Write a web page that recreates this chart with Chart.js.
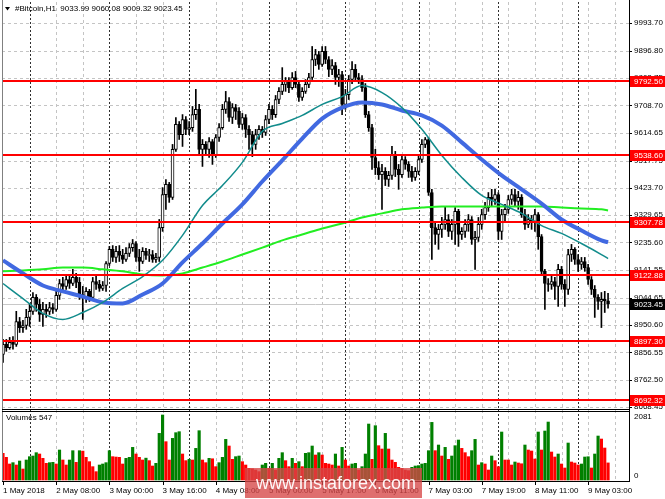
<!DOCTYPE html>
<html lang="en">
<head>
<meta charset="UTF-8">
<title>#Bitcoin,H1</title>
<script src="https://cdn.jsdelivr.net/npm/chart.js"></script>
<style>
  html, body { margin: 0; padding: 0; background: #fff; }
  #chart { display: block; }
</style>
</head>
<body>
<canvas id="chart" width="665" height="499"></canvas>
<script>
const symbol = '#Bitcoin,H1';

// bar index of each time label, and the label text
const labelIdx = [0, 16, 32, 48, 64, 80, 96, 112, 128, 144, 160, 176];
const timeLabels = ['1 May 2018', '2 May 08:00', '3 May 00:00', '3 May 16:00', '4 May 08:00', '5 May 00:00',
                    '5 May 17:00', '6 May 11:00', '7 May 03:00', '7 May 19:00', '8 May 11:00', '9 May 03:00'];
// bars where a new day starts
const daySep = [8, 32, 56, 80, 103, 125, 149, 173];

const priceTicks = [9993.70, 9896.80, 9802.75, 9708.70, 9614.65, 9517.75, 9423.70, 9329.65,
                    9235.60, 9141.55, 9044.65, 8950.60, 8856.55, 8762.50, 8668.45];
const levels = [9792.50, 9538.60, 9307.78, 9122.88, 8897.30, 8692.32];

// hourly candles
const opens = [
  8849, 8884, 8873, 8891, 8884, 8963, 8942, 8949, 8977, 8998,
  9046, 9022, 8987, 9005, 8998, 9011, 9005, 9053, 9094, 9084,
  9108, 9094, 9115, 9098, 9056, 9049, 9067, 9046, 9101, 9091,
  9077, 9087, 9163, 9212, 9184, 9205, 9191, 9177, 9198, 9218,
  9232, 9184, 9170, 9205, 9191, 9194, 9177, 9184, 9287, 9401,
  9436, 9391, 9557, 9643, 9608, 9660, 9626, 9632, 9677, 9695,
  9557, 9574, 9557, 9584, 9539, 9598, 9632, 9695, 9722, 9667,
  9701, 9688, 9643, 9667, 9626, 9608, 9574, 9608, 9626, 9615,
  9660, 9695, 9677, 9729, 9757, 9781, 9791, 9770, 9805, 9781,
  9736, 9757, 9781, 9805, 9867, 9884, 9850, 9895, 9867, 9833,
  9846, 9805, 9815, 9712, 9746, 9798, 9833, 9805, 9798, 9770,
  9677, 9632, 9529, 9494, 9470, 9481, 9453, 9467, 9539, 9488,
  9470, 9522, 9505, 9481, 9460, 9481, 9522, 9574, 9591, 9408,
  9287, 9263, 9281, 9298, 9315, 9274, 9298, 9343, 9263, 9274,
  9298, 9315, 9246, 9253, 9298, 9332, 9356, 9391, 9384, 9401,
  9274, 9332, 9350, 9384, 9401, 9377, 9391, 9332, 9298, 9315,
  9308, 9332, 9256, 9136, 9094, 9091, 9101, 9084, 9143, 9091,
  9074, 9194, 9212, 9177, 9160, 9170, 9149, 9108, 9074, 9046,
  9032, 9039, 9033.99
];
const highs = [
  8901, 8901, 8908, 8911, 8998, 8977, 8967, 9005, 9022, 9063,
  9056, 9039, 9029, 9022, 9029, 9025, 9067, 9108, 9115, 9125,
  9122, 9143, 9129, 9115, 9084, 9080, 9074, 9115, 9122, 9105,
  9101, 9170, 9222, 9225, 9222, 9225, 9212, 9218, 9232, 9246,
  9239, 9212, 9218, 9215, 9212, 9208, 9198, 9315, 9425, 9453,
  9443, 9574, 9667, 9653, 9677, 9670, 9653, 9705, 9764, 9712,
  9591, 9584, 9598, 9591, 9608, 9646, 9712, 9757, 9736, 9715,
  9712, 9701, 9681, 9677, 9639, 9619, 9626, 9639, 9636, 9674,
  9712, 9708, 9743, 9770, 9839, 9805, 9805, 9822, 9826, 9788,
  9770, 9798, 9819, 9912, 9902, 9895, 9912, 9912, 9877, 9867,
  9857, 9833, 9826, 9764, 9812, 9860, 9850, 9819, 9812, 9784,
  9688, 9643, 9557, 9515, 9505, 9494, 9481, 9567, 9550, 9505,
  9536, 9532, 9515, 9498, 9494, 9539, 9591, 9598, 9598, 9419,
  9308, 9298, 9322, 9360, 9332, 9315, 9356, 9350, 9287, 9315,
  9332, 9325, 9274, 9322, 9350, 9374, 9408, 9419, 9419, 9408,
  9350, 9367, 9398, 9419, 9419, 9412, 9401, 9350, 9332, 9329,
  9350, 9339, 9263, 9143, 9111, 9122, 9115, 9160, 9153, 9108,
  9212, 9229, 9218, 9194, 9184, 9184, 9160, 9118, 9087, 9056,
  9063, 9067, 9060.08
];
const lows = [
  8822, 8860, 8867, 8867, 8877, 8925, 8925, 8936, 8946, 8987,
  8998, 8963, 8946, 8977, 8987, 8991, 8998, 9039, 9067, 9074,
  9077, 9087, 9080, 9039, 8970, 9029, 9032, 9039, 9074, 9067,
  9070, 9067, 9156, 9170, 9167, 9170, 9163, 9170, 9187, 9205,
  9170, 9136, 9163, 9177, 9170, 9167, 9167, 9170, 9274, 9350,
  9374, 9384, 9550, 9591, 9567, 9608, 9608, 9619, 9660, 9539,
  9498, 9539, 9529, 9505, 9529, 9584, 9626, 9681, 9653, 9646,
  9660, 9632, 9626, 9598, 9557, 9532, 9557, 9591, 9598, 9605,
  9646, 9660, 9667, 9715, 9746, 9757, 9753, 9764, 9770, 9722,
  9726, 9750, 9770, 9798, 9846, 9833, 9843, 9853, 9808, 9815,
  9781, 9774, 9677, 9695, 9729, 9784, 9791, 9784, 9757, 9667,
  9619, 9488, 9470, 9453, 9350, 9432, 9429, 9453, 9463, 9419,
  9460, 9488, 9460, 9446, 9450, 9470, 9512, 9563, 9398, 9177,
  9229, 9212, 9253, 9281, 9256, 9246, 9229, 9222, 9246, 9253,
  9274, 9229, 9143, 9239, 9281, 9315, 9343, 9360, 9367, 9246,
  9246, 9308, 9336, 9367, 9360, 9350, 9322, 9281, 9287, 9281,
  9274, 9212, 9125, 9005, 9067, 9074, 9039, 9015, 9074, 9015,
  9056, 9170, 9160, 9136, 9143, 9136, 9091, 9056, 8977, 9005,
  8942, 8994, 9009.32
];
const closes = [
  8884, 8873, 8891, 8884, 8963, 8942, 8949, 8977, 8998, 9046,
  9022, 8987, 9005, 8998, 9011, 9005, 9053, 9094, 9084, 9108,
  9094, 9115, 9098, 9056, 9049, 9067, 9046, 9101, 9091, 9077,
  9087, 9163, 9212, 9184, 9205, 9191, 9177, 9198, 9218, 9232,
  9184, 9170, 9205, 9191, 9194, 9177, 9184, 9287, 9401, 9436,
  9391, 9557, 9643, 9608, 9660, 9626, 9632, 9677, 9695, 9557,
  9574, 9557, 9584, 9539, 9598, 9632, 9695, 9722, 9667, 9701,
  9688, 9643, 9667, 9626, 9608, 9574, 9608, 9626, 9615, 9660,
  9695, 9677, 9729, 9757, 9781, 9791, 9770, 9805, 9781, 9736,
  9757, 9781, 9805, 9867, 9884, 9850, 9895, 9867, 9833, 9846,
  9805, 9815, 9712, 9746, 9798, 9833, 9805, 9798, 9770, 9677,
  9632, 9529, 9494, 9470, 9481, 9453, 9467, 9539, 9488, 9470,
  9522, 9505, 9481, 9460, 9481, 9522, 9574, 9591, 9408, 9287,
  9263, 9281, 9298, 9315, 9274, 9298, 9343, 9263, 9274, 9298,
  9315, 9246, 9253, 9298, 9332, 9356, 9391, 9384, 9401, 9274,
  9332, 9350, 9384, 9401, 9377, 9391, 9332, 9298, 9315, 9308,
  9332, 9256, 9136, 9094, 9091, 9101, 9084, 9143, 9091, 9074,
  9194, 9212, 9177, 9160, 9170, 9149, 9108, 9074, 9046, 9032,
  9039, 9034, 9023.45
];
const volumes = [
  853, 725, 512, 555, 480, 608, 352, 640, 747, 768,
  875, 832, 693, 533, 555, 565, 512, 960, 640, 480,
  640, 939, 565, 939, 925, 725, 587, 427, 267, 480,
  512, 555, 939, 747, 735, 725, 512, 693, 725, 1045,
  832, 725, 640, 700, 620, 448, 533, 1493, 2081, 1227,
  640, 1333, 1515, 1547, 832, 620, 661, 640, 1013, 1579,
  640, 555, 693, 680, 427, 555, 725, 1301, 1088, 661,
  747, 768, 587, 480, 373, 360, 320, 267, 480, 533,
  373, 533, 320, 693, 875, 619, 427, 693, 533, 587,
  427, 853, 875, 1088, 800, 875, 800, 533, 512, 480,
  832, 448, 1045, 640, 448, 512, 533, 320, 427, 832,
  1792, 661, 1739, 1099, 992, 1493, 992, 640, 565, 405,
  373, 320, 299, 405, 448, 460, 512, 533, 939, 1845,
  939, 1120, 768, 1045, 661, 768, 1099, 1280, 1013, 875,
  747, 939, 1301, 480, 555, 512, 320, 768, 619, 427,
  1536, 640, 640, 480, 576, 544, 520, 1120, 960, 928,
  672, 1536, 960, 1568, 1856, 896, 736, 832, 512, 384,
  1184, 576, 544, 480, 512, 736, 745, 384, 832, 1408,
  1312, 1024, 547
];

// moving averages at these bars
const maIdx = [0, 6, 12, 18, 24, 30, 36, 42, 48, 54, 60, 66, 72, 78, 84, 90,
               96, 102, 108, 114, 120, 126, 132, 138, 144, 150, 156, 162, 168, 174, 180, 182];
const maBlue = [9174, 9129, 9087, 9067, 9049, 9029, 9025, 9056, 9094, 9167, 9232, 9301, 9367, 9446, 9519, 9594,
                9663, 9701, 9719, 9712, 9691, 9674, 9639, 9581, 9522, 9467, 9419, 9370, 9315, 9277, 9243, 9236];
const maTeal = [9094, 9042, 8991, 8970, 8994, 9029, 9077, 9118, 9174, 9260, 9363, 9432, 9512, 9619, 9646, 9674,
                9712, 9739, 9777, 9753, 9701, 9626, 9536, 9460, 9398, 9367, 9336, 9294, 9267, 9232, 9194, 9180];
const maGreen = [9136, 9139, 9143, 9149, 9149, 9143, 9136, 9125, 9122, 9129, 9149, 9170, 9194, 9218, 9243, 9263,
                 9284, 9301, 9322, 9336, 9350, 9356, 9360, 9360, 9360, 9360, 9360, 9360, 9356, 9353, 9350, 9346];

const FONT = '8px "Liberation Sans", Arial, sans-serif';
const last = closes.length - 1;
const idx = closes.map((c, i) => i);

const snap = v => Math.round(v) + 0.5;
function hline(ctx, x1, x2, y) { ctx.beginPath(); ctx.moveTo(x1, y); ctx.lineTo(x2, y); ctx.stroke(); }
function vline(ctx, x, y1, y2) { ctx.beginPath(); ctx.moveTo(x, y1); ctx.lineTo(x, y2); ctx.stroke(); }

function tag(ctx, y, text, bg) {
  ctx.fillStyle = bg;
  ctx.fillRect(630, Math.round(y) - 5, 35, 11);
  ctx.fillStyle = '#fff';
  ctx.fillText(text, 634, Math.round(y) + 0.5);
}

const mtPanels = {
  id: 'mtPanels',
  beforeDatasetsDraw(chart) {
    const {ctx, chartArea: a} = chart;
    const {x, y, yv} = chart.scales;
    ctx.save();
    ctx.lineWidth = 1;
    ctx.strokeStyle = '#c4c4c4';
    ctx.setLineDash([3, 3]);
    priceTicks.forEach(v => hline(ctx, a.left, a.right, snap(y.getPixelForValue(v))));
    for (let k = 8; k < x.max; k += 8) {
      if (daySep.includes(k)) continue;
      const px = snap(x.getPixelForValue(k));
      vline(ctx, px, y.top, y.bottom);
      vline(ctx, px, yv.top, yv.bottom);
    }
    ctx.strokeStyle = '#303030';
    ctx.setLineDash([2, 2]);
    daySep.forEach(k => {
      const px = snap(x.getPixelForValue(k));
      vline(ctx, px, y.top, y.bottom);
      vline(ctx, px, yv.top, yv.bottom);
    });
    ctx.setLineDash([]);
    ctx.strokeStyle = '#c8c8c8';
    hline(ctx, a.left, a.right, snap(y.getPixelForValue(closes[last])));
    ctx.restore();
  },
  afterDatasetsDraw(chart) {
    const {ctx, chartArea: a} = chart;
    const {x, y, yv} = chart.scales;
    ctx.save();
    // support / resistance levels
    ctx.strokeStyle = '#ff0000';
    ctx.lineWidth = 2;
    levels.forEach(v => hline(ctx, a.left, a.right, Math.round(y.getPixelForValue(v))));

    // frames
    ctx.lineWidth = 1;
    ctx.strokeStyle = '#808080';
    vline(ctx, 2.5, 0, 482);
    ctx.strokeStyle = '#000';
    vline(ctx, 629.5, 0, 482);
    hline(ctx, a.left, 630, snap(y.bottom) - 1);
    hline(ctx, a.left, 630, snap(yv.top) + 1);
    hline(ctx, a.left, 630, snap(yv.bottom));
    priceTicks.forEach(v => hline(ctx, 629, 632, snap(y.getPixelForValue(v))));
    labelIdx.forEach(k => vline(ctx, snap(x.getPixelForValue(k)), 482, 485));

    // price tags
    ctx.font = FONT;
    ctx.textBaseline = 'middle';
    ctx.textAlign = 'left';
    levels.forEach(v => tag(ctx, y.getPixelForValue(v), v.toFixed(2), '#ff0000'));
    tag(ctx, y.getPixelForValue(closes[last]), closes[last].toFixed(2), '#000');

    // volume scale
    ctx.fillStyle = '#000';
    const vmax = Math.max(...volumes);
    ctx.fillText(String(vmax), 634, yv.getPixelForValue(vmax) + 2);
    ctx.fillText('0', 634, yv.getPixelForValue(0) - 4);

    // captions
    ctx.fillText(`${symbol}  ${opens[last].toFixed(2)} ${highs[last].toFixed(2)} ${lows[last].toFixed(2)} ${closes[last].toFixed(2)}`, 15, 9);
    ctx.beginPath();
    ctx.moveTo(5, 7); ctx.lineTo(10, 7); ctx.lineTo(7.5, 10.5); ctx.closePath();
    ctx.fill();
    ctx.fillText(`Volumes ${volumes[last]}`, 6, 418);

    // watermark
    ctx.fillStyle = 'rgba(214, 70, 70, 0.78)';
    ctx.fillRect(245, 468, 177, 30);
    ctx.fillStyle = 'rgba(255, 255, 255, 0.95)';
    ctx.font = '18px "Liberation Sans", Arial, sans-serif';
    ctx.fillText('www.instaforex.com', 256, 484);
    ctx.restore();
  }
};

new Chart(document.getElementById('chart'), {
  type: 'bar',
  data: {
    datasets: [
      {
        type: 'line', label: 'MA fast', yAxisID: 'y', order: 0,
        data: maIdx.map((k, j) => ({x: k, y: maTeal[j]})),
        borderColor: '#128c8c', borderWidth: 1.5, pointRadius: 0, cubicInterpolationMode: 'monotone'
      },
      {
        type: 'line', label: 'MA slow', yAxisID: 'y', order: 1,
        data: maIdx.map((k, j) => ({x: k, y: maBlue[j]})),
        borderColor: '#4169e1', borderWidth: 4, pointRadius: 0, cubicInterpolationMode: 'monotone'
      },
      {
        type: 'line', label: 'MA 200', yAxisID: 'y', order: 2,
        data: maIdx.map((k, j) => ({x: k, y: maGreen[j]})),
        borderColor: '#22ee22', borderWidth: 2, pointRadius: 0, cubicInterpolationMode: 'monotone'
      },
      {
        label: 'body', yAxisID: 'y', order: 3, grouped: false,
        data: idx.map(i => ({x: i, y: [opens[i], closes[i]]})),
        backgroundColor: idx.map(i => closes[i] >= opens[i] ? '#ffffff' : '#000000'),
        borderColor: '#000', borderWidth: 1, borderSkipped: false, barThickness: 3
      },
      {
        label: 'wick', yAxisID: 'y', order: 4, grouped: false,
        data: idx.map(i => ({x: i, y: [lows[i], highs[i]]})),
        backgroundColor: '#000', barThickness: 1
      },
      {
        label: 'Volumes', yAxisID: 'yv', order: 5, grouped: false,
        data: idx.map(i => ({x: i, y: volumes[i]})),
        backgroundColor: idx.map(i => i > 0 && volumes[i] > volumes[i - 1] ? '#008000' : '#ff0000'),
        barThickness: 2.5
      }
    ]
  },
  options: {
    responsive: false,
    animation: false,
    devicePixelRatio: 1,
    layout: { padding: { top: 2, left: 2, right: 0, bottom: 0 } },
    plugins: { legend: { display: false }, tooltip: { enabled: false } },
    scales: {
      x: {
        type: 'linear', position: 'bottom', min: -0.3, max: 188.3, offset: false,
        grid: { display: false, drawTicks: false, offset: false },
        border: { display: false },
        afterBuildTicks: s => { s.ticks = labelIdx.map(v => ({value: v})); },
        afterFit: s => { s.height = 18; s.paddingLeft = 0; s.paddingRight = 0; },
        ticks: {
          autoSkip: false, maxRotation: 0, align: 'start', padding: 5, color: '#000',
          font: { family: '"Liberation Sans", Arial, sans-serif', size: 8 },
          callback: (v, i) => timeLabels[i]
        }
      },
      y: {
        type: 'linear', position: 'right', stack: 'panes', stackWeight: 408,
        min: 8657.5, max: 10065.5,
        grid: { display: false, drawTicks: false },
        border: { display: false },
        afterBuildTicks: s => { s.ticks = priceTicks.map(v => ({value: v})); },
        afterFit: s => { s.width = 36; s.paddingTop = 0; s.paddingBottom = 0; },
        ticks: {
          padding: 5, color: '#000',
          font: { family: '"Liberation Sans", Arial, sans-serif', size: 8 },
          callback: v => v.toFixed(2)
        }
      },
      yv: {
        type: 'linear', position: 'right', stack: 'panes', stackWeight: 71,
        min: -32, max: 2241,
        grid: { display: false, drawTicks: false },
        border: { display: false },
        ticks: { display: false },
        afterFit: s => { s.width = 36; s.paddingTop = 0; s.paddingBottom = 0; }
      }
    }
  },
  plugins: [mtPanels]
});
</script>
</body>
</html>
